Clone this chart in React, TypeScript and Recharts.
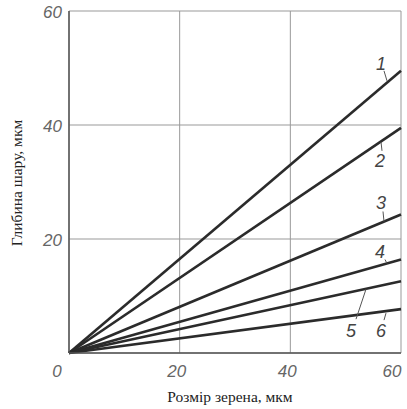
import React from 'react';
import { LineChart, Line, XAxis, YAxis, CartesianGrid } from 'recharts';

const grainSize = [0, 60];
const lineNames = ['1', '2', '3', '4', '5', '6'];
const depth1 = [0, 49.5];
const depth2 = [0, 39.5];
const depth3 = [0, 24.3];
const depth4 = [0, 16.4];
const depth5 = [0, 12.6];
const depth6 = [0, 7.7];
const xTicks = [0, 20, 40, 60];
const yTicks = [0, 20, 40, 60];

const allSeries = [depth1, depth2, depth3, depth4, depth5, depth6];

const data = grainSize.map((x, i) => {
  const row: Record<string, number> = { x };
  allSeries.forEach((s, k) => {
    row['s' + (k + 1)] = s[i];
  });
  return row;
});

// label text position and leader line, relative to the end point of each line
const labelPlace = [
  { tx: -20, ty: -8, x1: -17, y1: 0, x2: -14, y2: 10 },
  { tx: -21, ty: 32, x1: -20, y1: 14, x2: -19, y2: 23 },
  { tx: -20, ty: -12, x1: -18, y1: -3, x2: -17, y2: 7 },
  { tx: -21, ty: -9, x1: -16, y1: 0, x2: -14, y2: 4 },
  { tx: -50, ty: 49, x1: -35, y1: 8, x2: -45, y2: 38 },
  { tx: -20, ty: 21, x1: -15, y1: 4, x2: -17, y2: 11 },
];

const tickFont = {
  fontFamily: '"Liberation Sans", Arial, sans-serif',
  fontStyle: 'italic' as const,
  fontSize: 17,
  fill: '#666',
};

const labelFont = '"Liberation Serif", "Times New Roman", serif';

const XTick = (props: any) => {
  const { x, y, payload } = props;
  const shift = payload.value === 0 ? -12 : payload.value === 60 ? -7 : -3;
  return (
    <text x={x + shift} y={y + 16} textAnchor="middle" {...tickFont}>
      {payload.value}
    </text>
  );
};

const YTick = (props: any) => {
  const { y, payload } = props;
  if (payload.value === 0) return null;
  return (
    <text x={62} y={y + 7} textAnchor="end" {...tickFont}>
      {payload.value}
    </text>
  );
};

const makeLabel = (k: number) => (props: any) => {
  const { x, y, index } = props;
  if (index !== grainSize.length - 1) return null;
  const p = labelPlace[k];
  return (
    <g>
      <line x1={x + p.x1} y1={y + p.y1} x2={x + p.x2} y2={y + p.y2} stroke="#555" strokeWidth={1} />
      <text x={x + p.tx} y={y + p.ty + 7} textAnchor="middle" {...tickFont} fontSize={18} fill="#444">
        {lineNames[k]}
      </text>
    </g>
  );
};

export default function App() {
  return (
    <div style={{ position: 'absolute', left: 0, top: 0, background: '#fff' }}>
      <LineChart
        width={407}
        height={409}
        data={data}
        margin={{ top: 11, right: 6, bottom: 0, left: 0 }}
      >
        <CartesianGrid stroke="#999" strokeWidth={1} horizontalValues={yTicks} verticalValues={xTicks} />
        <XAxis
          dataKey="x"
          type="number"
          domain={[0, 60]}
          ticks={xTicks}
          tick={<XTick />}
          tickLine={false}
          height={56}
          stroke="#555"
          strokeWidth={1.5}
          label={{
            content: () => (
              <text x={230} y={402} textAnchor="middle" fontFamily={labelFont} fontSize={15.5} fill="#222">
                Розмір зерена, мкм
              </text>
            ),
          }}
        />
        <YAxis
          type="number"
          domain={[0, 60]}
          ticks={yTicks}
          tick={<YTick />}
          tickLine={false}
          width={69}
          stroke="#555"
          strokeWidth={1.5}
          label={{
            content: () => (
              <text
                x={0}
                y={0}
                transform="translate(22,183) rotate(-90)"
                textAnchor="middle"
                fontFamily={labelFont}
                fontSize={15.5}
                fill="#222"
              >
                Глибина шару, мкм
              </text>
            ),
          }}
        />
        {lineNames.map((n, k) => (
          <Line
            key={n}
            type="linear"
            dataKey={'s' + (k + 1)}
            stroke="#2b2b2b"
            strokeWidth={2.6}
            dot={false}
            activeDot={false}
            isAnimationActive={false}
            label={makeLabel(k)}
          />
        ))}
      </LineChart>
    </div>
  );
}
